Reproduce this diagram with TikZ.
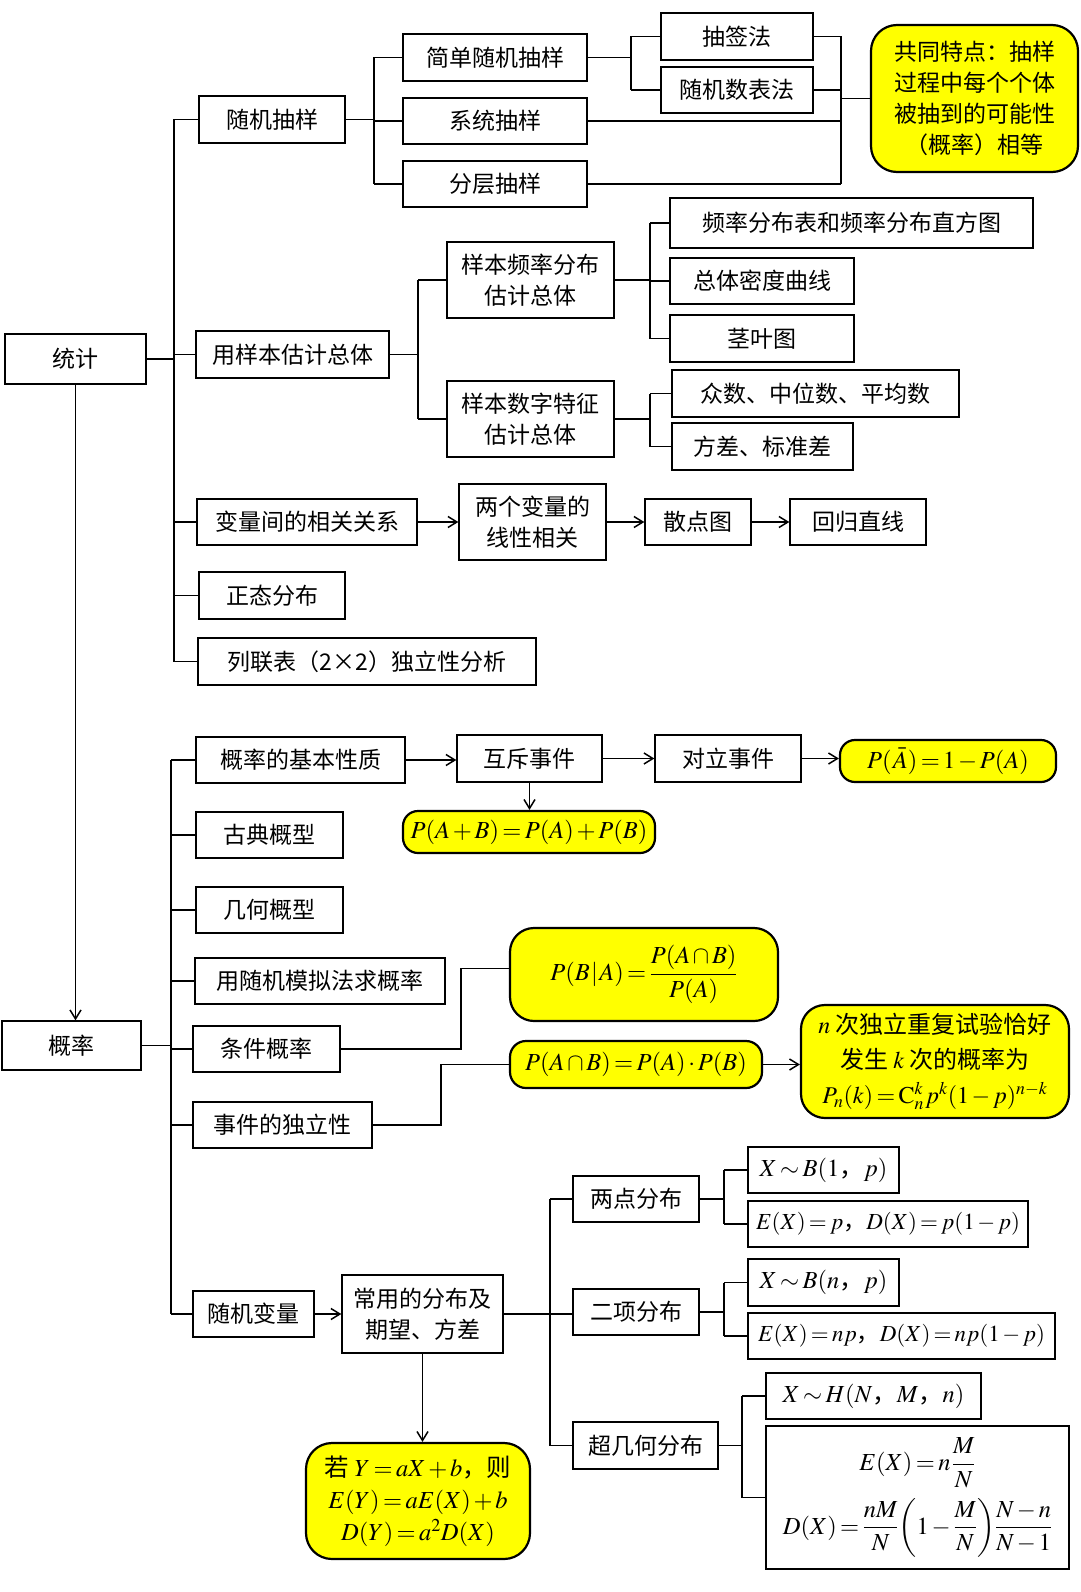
\documentclass[tikz,border=0pt]{standalone}
\usepackage{amsmath}
\usepackage{mathptmx}
\usepackage[no-math]{fontspec}
\setmainfont{Noto Sans CJK SC}
\usetikzlibrary{arrows.meta}
\definecolor{hl}{RGB}{255,255,0}
\begin{document}
\thinmuskip=1mu
\medmuskip=2mu plus 1mu
\thickmuskip=2.5mu plus 1mu
\begin{tikzpicture}[x=1pt,y=-1pt,
  every node/.style={font=\fontsize{23}{31}\selectfont},
  mth/.style={font=\fontsize{24.5}{32}\selectfont},
  msm/.style={font=\fontsize{23}{30}\selectfont},
  bx/.style={draw, line width=1.3pt, inner sep=0pt, align=center},
  yb/.style={draw, line width=2.2pt, fill=hl, rounded corners=16pt, inner sep=0pt, align=center},
  ln/.style={line width=1.5pt},
  ar/.style={line width=1.5pt, -{Straight Barb[length=9pt,width=11pt]}},
]
\useasboundingbox (0,0) rectangle (1080,1592);
% ---------- statistics ----------
\node[bx,minimum width=141pt,minimum height=50pt] (tj) at (75.5,359) {统计};
\node[bx,minimum width=146pt,minimum height=47pt] (sjcy) at (272,119.5) {随机抽样};
\node[bx,minimum width=184pt,minimum height=47pt] (jdsj) at (495,57.5) {简单随机抽样};
\node[bx,minimum width=184pt,minimum height=46pt] (xt) at (495,121) {系统抽样};
\node[bx,minimum width=184pt,minimum height=46pt] (fc) at (495,184) {分层抽样};
\node[bx,minimum width=152pt,minimum height=47pt] (cq) at (737,36.5) {抽签法};
\node[bx,minimum width=152pt,minimum height=46pt] (sjb) at (737,90) {随机数表法};
\node[yb,minimum width=207pt,minimum height=147pt,rounded corners=26pt] (gt) at (974.5,98.5) {共同特点：抽样\\过程中每个个体\\被抽到的可能性\\（概率）相等};
\node[bx,minimum width=193pt,minimum height=47pt] (ybgj) at (292.5,354.5) {用样本估计总体};
\node[bx,minimum width=167pt,minimum height=76pt] (ypl) at (530.5,280) {样本频率分布\\估计总体};
\node[bx,minimum width=167pt,minimum height=76pt] (ysz) at (530.5,419) {样本数字特征\\估计总体};
\node[bx,minimum width=363pt,minimum height=50pt] (pfb) at (851.5,223) {频率分布表和频率分布直方图};
\node[bx,minimum width=184pt,minimum height=46pt] (mdqx) at (762,281) {总体密度曲线};
\node[bx,minimum width=184pt,minimum height=47pt] (jyt) at (762,338.5) {茎叶图};
\node[bx,minimum width=287pt,minimum height=47pt] (zs) at (815.5,393.5) {众数、中位数、平均数};
\node[bx,minimum width=181pt,minimum height=47pt] (fcb) at (762.5,446.5) {方差、标准差};
\node[bx,minimum width=220pt,minimum height=46pt] (bl) at (307,522) {变量间的相关关系};
\node[bx,minimum width=147pt,minimum height=76pt] (lg) at (532.5,522) {两个变量的\\线性相关};
\node[bx,minimum width=106pt,minimum height=46pt] (sd) at (698,522) {散点图};
\node[bx,minimum width=136pt,minimum height=46pt] (hg) at (858,522) {回归直线};
\node[bx,minimum width=146pt,minimum height=47pt] (zt) at (272,595.5) {正态分布};
\node[bx,minimum width=338pt,minimum height=47pt] (ll) at (367,661.5) {列联表（2×2）独立性分析};

\coordinate (b1) at (174,0);
\coordinate (b2) at (374,0);
\coordinate (b3) at (631,0);
\coordinate (b4) at (841,0);
\coordinate (b5) at (418,0);
\coordinate (b6) at (650,0);
\draw[ln] (tj.east) -- (tj.east -| b1);
\draw[ln] (sjcy.west -| b1) -- (ll.west -| b1);
\foreach \n in {sjcy,ybgj,bl,zt,ll} \draw[ln] (\n.west) -- (\n.west -| b1);
\draw[ln] (sjcy.east) -- (sjcy.east -| b2);
\draw[ln] (jdsj.west -| b2) -- (fc.west -| b2);
\foreach \n in {jdsj,xt,fc} \draw[ln] (\n.west) -- (\n.west -| b2);
\draw[ln] (jdsj.east) -- (jdsj.east -| b3);
\draw[ln] (cq.west -| b3) -- (sjb.west -| b3);
\foreach \n in {cq,sjb} \draw[ln] (\n.west) -- (\n.west -| b3);
\foreach \n in {cq,sjb,xt,fc} \draw[ln] (\n.east) -- (\n.east -| b4);
\draw[ln] (cq.east -| b4) -- (fc.east -| b4);
\draw[ln] (gt.west) -- (gt.west -| b4);
\draw[ln] (ybgj.east) -- (ybgj.east -| b5);
\draw[ln] (ypl.west -| b5) -- (ysz.west -| b5);
\foreach \n in {ypl,ysz} \draw[ln] (\n.west) -- (\n.west -| b5);
\draw[ln] (ypl.east) -- (ypl.east -| b6);
\draw[ln] (pfb.west -| b6) -- (jyt.west -| b6);
\foreach \n in {pfb,mdqx,jyt} \draw[ln] (\n.west) -- (\n.west -| b6);
\draw[ln] (ysz.east) -- (ysz.east -| b6);
\draw[ln] (zs.west -| b6) -- (fcb.west -| b6);
\foreach \n in {zs,fcb} \draw[ln] (\n.west) -- (\n.west -| b6);
\draw[ar] (bl) -- (lg);
\draw[ar] (lg) -- (sd);
\draw[ar] (sd) -- (hg);

% ---------- probability ----------
\node[bx,minimum width=139pt,minimum height=49pt] (gl) at (71.5,1045.5) {概率};
\draw[ar] (tj.south) -- (tj.south |- gl.north);
\node[bx,minimum width=209pt,minimum height=46pt] (jbxz) at (300.5,760) {概率的基本性质};
\node[bx,minimum width=145pt,minimum height=47pt] (hc) at (529.5,758.5) {互斥事件};
\node[bx,minimum width=146pt,minimum height=47pt] (dl) at (728,758.5) {对立事件};
\node[yb,mth,minimum width=216pt,minimum height=42pt,rounded corners=15pt] (pa) at (948,761) {$P(\,\bar{A})=1-P(A)$};
\node[yb,mth,minimum width=252pt,minimum height=42pt,rounded corners=15pt] (pab) at (529,832) {$P(A+B)=P(A)+P(B)$};
\node[bx,minimum width=147pt,minimum height=46pt] (gd) at (269.5,835) {古典概型};
\node[bx,minimum width=147pt,minimum height=46pt] (jh) at (269.5,910) {几何概型};
\node[bx,minimum width=250pt,minimum height=46pt] (mn) at (320,981) {用随机模拟法求概率};
\node[bx,minimum width=147pt,minimum height=46pt] (tjgl) at (266.5,1049) {条件概率};
\node[bx,minimum width=179pt,minimum height=46pt] (dlx) at (282.5,1125) {事件的独立性};
\node[bx,minimum width=121pt,minimum height=46pt] (sjbl) at (253.5,1314) {随机变量};
\node[bx,minimum width=161pt,minimum height=78pt] (cy) at (422.5,1314) {常用的分布及\\期望、方差};
\node[yb,mth,minimum width=224pt,minimum height=116pt,rounded corners=26pt] (eyb) at (418,1501) {若 $Y=aX+b$，则\\$E(Y)=aE(X)+b$\\$D(Y)=a^2D(X)$};
\node[yb,mth,minimum width=268pt,minimum height=93pt,rounded corners=24pt] (pba) at (644,974.5) {$P(B\,|\,A)=\dfrac{P(A\cap B)}{P(A)}$};
\node[yb,mth,minimum width=252pt,minimum height=47pt,rounded corners=16pt] (pabi) at (636,1064.5) {$P(A\cap B)=P(A)\boldsymbol{\cdot} P(B)$};
\node[yb,minimum width=268pt,minimum height=113pt,rounded corners=24pt,font=\fontsize{24}{35}\selectfont] (ncd) at (935,1061.5) {$n$ 次独立重复试验恰好\\发生 $k$ 次的概率为\\$P_n(k)=\mathrm{C}_n^k\,p^k(1-p)^{n-k}$};

\coordinate (c1) at (171,0);
\coordinate (k1) at (461,0);
\coordinate (k2) at (441,0);
\draw[ln] (gl.east) -- (gl.east -| c1);
\draw[ln] (jbxz.west -| c1) -- (sjbl.west -| c1);
\foreach \n in {jbxz,gd,jh,mn,tjgl,dlx,sjbl} \draw[ln] (\n.west) -- (\n.west -| c1);
\draw[ar] (jbxz.east) -- (jbxz.east -| hc.west);
\draw[ar] (hc.east) -- (hc.east -| dl.west);
\draw[ar] (dl.east) -- (dl.east -| pa.west);
\draw[ar] (hc.south) -- (hc.south |- pab.north);
\draw[ln] (tjgl.east) -- (tjgl.east -| k1) |- ([yshift=6pt]pba.west);
\draw[ln] (dlx.east) -- (dlx.east -| k2) |- (pabi.west);
\draw[ar] (pabi.east) -- (pabi.east -| ncd.west);
\draw[ar] (sjbl.east) -- (sjbl.east -| cy.west);
\draw[ar] (cy.south) -- (cy.south |- eyb.north);

% ---------- distributions ----------
\node[bx,minimum width=126pt,minimum height=46pt] (dd) at (636,1199) {两点分布};
\node[bx,minimum width=126pt,minimum height=46pt] (ex) at (636,1312) {二项分布};
\node[bx,minimum width=145pt,minimum height=47pt] (cjh) at (645.5,1445.5) {超几何分布};
\node[bx,mth,minimum width=151pt,minimum height=46pt] (b1n) at (823.5,1170) {$X\sim B(1$，$p)$};
\node[bx,msm,minimum width=280pt,minimum height=46pt] (e1n) at (888,1224) {$E(X)=p$，$D(X)=p(1-p)$};
\node[bx,mth,minimum width=151pt,minimum height=47pt] (bnn) at (823.5,1282.5) {$X\sim B(n$，$p)$};
\node[bx,msm,minimum width=307pt,minimum height=46pt] (enn) at (901.5,1336) {$E(X)=np$，$D(X)=np(1-p)$};
\node[bx,mth,minimum width=215pt,minimum height=46pt] (xhn) at (873.5,1396) {$X\sim H(N$，$M$，$n)$};
\node[bx,mth,minimum width=303pt,minimum height=143pt] (edn) at (917.5,1497.5) {$E(X)=n\,\dfrac{M}{N}$\\[10pt]$D(X)=\dfrac{nM}{N}\!\left(1-\dfrac{M}{N}\right)\!\dfrac{N-n}{N-1}$};

\coordinate (d1) at (550,0);
\coordinate (d2) at (724,0);
\coordinate (d3) at (742,0);
\draw[ln] (cy.east) -- (cy.east -| ex.west);
\draw[ln] (dd.west -| d1) -- (cjh.west -| d1);
\foreach \n in {dd,cjh} \draw[ln] (\n.west) -- (\n.west -| d1);
\draw[ln] (dd.east) -- (dd.east -| d2);
\draw[ln] (b1n.west -| d2) -- (e1n.west -| d2);
\foreach \n in {b1n,e1n} \draw[ln] (\n.west) -- (\n.west -| d2);
\draw[ln] (ex.east) -- (ex.east -| d2);
\draw[ln] (bnn.west -| d2) -- (enn.west -| d2);
\foreach \n in {bnn,enn} \draw[ln] (\n.west) -- (\n.west -| d2);
\draw[ln] (cjh.east) -- (cjh.east -| d3);
\draw[ln] (xhn.west -| d3) -- (edn.west -| d3);
\foreach \n in {xhn,edn} \draw[ln] (\n.west) -- (\n.west -| d3);
\end{tikzpicture}
\end{document}
